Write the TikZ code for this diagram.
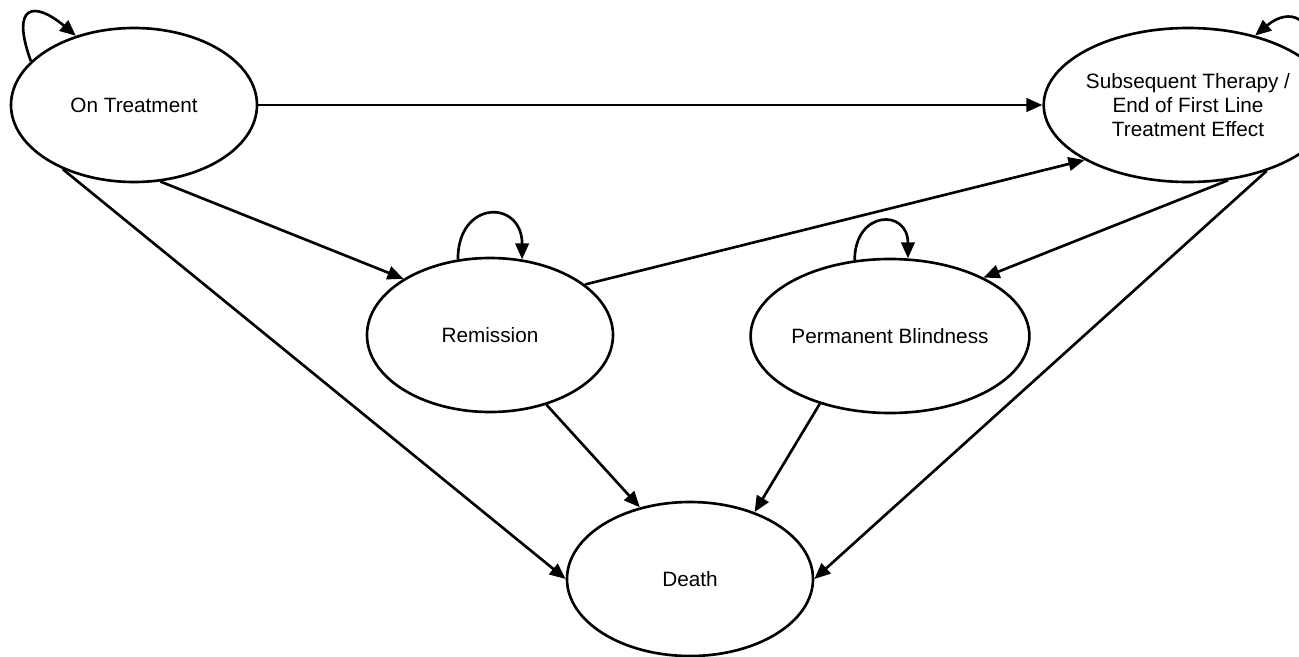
\documentclass[tikz,border=0pt]{standalone}
\usepackage{fontspec}
\setmainfont{Liberation Sans}
\usetikzlibrary{shapes.geometric,arrows.meta}
\begin{document}
\begin{tikzpicture}
    [line width=1.5pt,
     health/.style={ellipse, draw, minimum width=4.92cm, minimum height=3.08cm,
       inner sep=0pt, align=center, font=\fontsize{11.8}{13.6}\selectfont},
     >={Triangle[length=3.2mm,width=2.7mm]}]

    \clip (0,0) rectangle (25.98,13.12);

    \node [health] at (2.68, 11.02) (treat) {On Treatment};
    \node [health] at (23.76, 11.02) (subs) {Subsequent Therapy /\\End of First Line\\Treatment Effect};

    \node [health] at (9.80, 6.42) (remis) {Remission};
    \node [health] at (17.80, 6.40) (blind) {Permanent Blindness};

    \node [health] at (13.80, 1.54) (death) {Death};

    \draw [->] (treat) -- (subs);
    \draw [->] (treat.-71.6) -- (remis.147);
    \draw [->] (treat.-138) -- (death.180);

    \draw [->] (remis.28.7) -- (subs.-152);
    \draw [->] (remis.-51.6) -- (death.125);

    \draw [->] (subs.-62.8) -- (blind.32);
    \draw [->] (subs.-40.9) -- (death.0);

    \draw [->] (blind.-136.7) -- (death.46.3);

    % self loops
    \draw [->] (treat.157) .. controls +(110:1.2) and +(140:1.1) .. (treat.130);
    \draw [->] (subs.20) .. controls +(80:0.9) and +(40:0.9) .. (subs.46);
    \draw [->] (remis.113) .. controls +(90:1.2) and +(90:1.2) .. (remis.67);
    \draw [->] (blind.115) .. controls +(90:1.0) and +(90:1.0) .. (blind.77);

  \end{tikzpicture}
\end{document}
